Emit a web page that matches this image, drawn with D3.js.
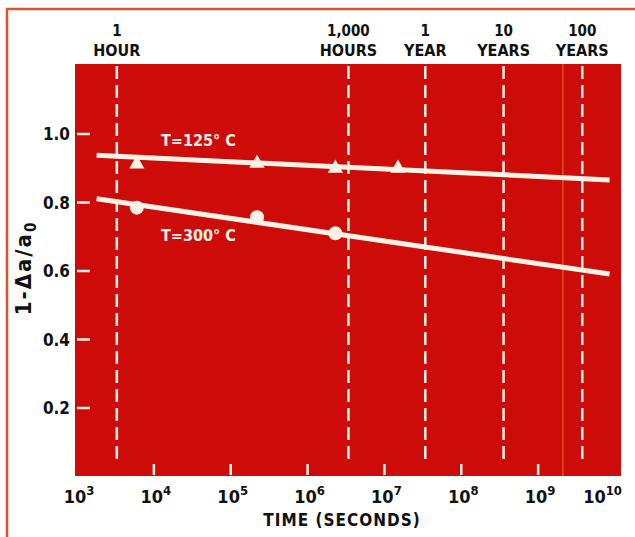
<!DOCTYPE html>
<html>
<head>
<meta charset="utf-8">
<script src="https://cdn.jsdelivr.net/npm/d3@7"></script>
<style>
  body { margin: 0; background: #fff; }
  text { font-family: "DejaVu Sans Condensed", "DejaVu Sans", sans-serif; fill: #111; font-weight: bold; }
</style>
</head>
<body>
<div id="chart-area"></div>
<script>
// values
const xTicks = [1e3, 1e4, 1e5, 1e6, 1e7, 1e8, 1e9, 1e10];
const yTicks = [0.2, 0.4, 0.6, 0.8, 1.0];

const markerLines = ["1|HOUR", "1,000|HOURS", "1|YEAR", "10|YEARS", "100|YEARS"];
const markerSeconds = [3300, 3.4e6, 3.4e7, 3.55e8, 3.75e9];

const fit125 = [[1.8e3, 0.938], [8.5e9, 0.866]];
const fit300 = [[1.8e3, 0.811], [8.5e9, 0.591]];

const pts125Time = [6.0e3, 2.2e5, 2.3e6, 1.5e7];
const pts125Val = [0.912, 0.914, 0.900, 0.900];
const pts300Time = [6.0e3, 2.2e5, 2.3e6];
const pts300Val = [0.785, 0.757, 0.710];

const creaseAt = [2.1e9];

const W = 635, H = 537;
const red = "#cd0c0a";
const cream = "#fbf3e6";

const svg = d3.select('#chart-area')
  .append('svg')
  .attr('width', W)
  .attr('height', H);

// page frame
svg.append('path')
  .attr('d', `M7,${H} L7,9 L${W},9`)
  .attr('fill', 'none')
  .attr('stroke', '#d9532c')
  .attr('stroke-width', 2.5);

const x_s = d3.scaleLog().domain([1e3, 1e10]).range([77, 615]);
const y_s = d3.scaleLinear().domain([0, 1.2]).range([476.5, 65.5]);

// plot background
svg.append('rect')
  .attr('x', 75).attr('y', 64)
  .attr('width', 546).attr('height', 412)
  .attr('fill', red);

svg.selectAll('.crease')
  .data(creaseAt)
  .enter().append('line')
  .attr('x1', d => x_s(d)).attr('x2', d => x_s(d))
  .attr('y1', 64).attr('y2', 476)
  .attr('stroke', '#e8731c').attr('stroke-width', 1.5).attr('opacity', 0.7);

// dashed time markers
svg.selectAll('.marker')
  .data(markerSeconds)
  .enter().append('line')
  .attr('x1', d => x_s(d)).attr('x2', d => x_s(d))
  .attr('y1', 66).attr('y2', 459)
  .attr('stroke', cream)
  .attr('stroke-width', 2.5)
  .attr('stroke-dasharray', '13,6');

// marker labels above plot
const ml = svg.selectAll('.mlabel')
  .data(markerLines.map((t, i) => ({t: t.split('|'), s: markerSeconds[i]})))
  .enter().append('g');
ml.append('text')
  .attr('x', d => x_s(d.s)).attr('y', 36)
  .attr('text-anchor', 'middle')
  .attr('font-size', 15)
  .text(d => d.t[0]);
ml.append('text')
  .attr('x', d => x_s(d.s)).attr('y', 56)
  .attr('text-anchor', 'middle')
  .attr('font-size', 16)
  .text(d => d.t[1]);

// x axis: ticks inside plot bottom
const xAxis = d3.axisBottom(x_s).tickValues(xTicks).tickSize(0).tickFormat('');
svg.append('g')
  .attr('transform', 'translate(0,476)')
  .call(xAxis)
  .call(g => g.select('.domain').remove());

svg.selectAll('.xtick')
  .data(xTicks.slice(1, -1))
  .enter().append('line')
  .attr('x1', d => x_s(d)).attr('x2', d => x_s(d))
  .attr('y1', 464).attr('y2', 475)
  .attr('stroke', cream).attr('stroke-width', 2.5);

const last = xTicks[xTicks.length - 1];
const xl = svg.selectAll('.xlabel')
  .data(xTicks)
  .enter().append('text')
  .attr('x', d => d === last ? 622 : x_s(d) + 2)
  .attr('y', 503)
  .attr('text-anchor', d => d === last ? 'end' : 'middle')
  .attr('font-size', 18);
xl.append('tspan').text('10');
xl.append('tspan').attr('font-size', 13).attr('dy', -8).text(d => Math.round(Math.log10(d)));

svg.append('text')
  .attr('x', 342).attr('y', 526)
  .attr('text-anchor', 'middle')
  .attr('font-size', 17)
  .attr('letter-spacing', 1)
  .text('TIME (SECONDS)');

// y axis
const yAxis = d3.axisLeft(y_s).tickValues(yTicks).tickSize(0).tickFormat('');
svg.append('g')
  .attr('transform', 'translate(75,0)')
  .call(yAxis)
  .call(g => g.select('.domain').remove());

svg.selectAll('.ytick')
  .data(yTicks)
  .enter().append('line')
  .attr('x1', 77).attr('x2', 90)
  .attr('y1', d => y_s(d)).attr('y2', d => y_s(d))
  .attr('stroke', cream).attr('stroke-width', 2.5);

svg.selectAll('.ylabel')
  .data(yTicks)
  .enter().append('text')
  .attr('x', 70)
  .attr('y', d => y_s(d) + 6)
  .attr('text-anchor', 'end')
  .attr('font-size', 17)
  .text(d => d.toFixed(1));

const yt = svg.append('text')
  .attr('transform', 'translate(31,268) rotate(-90)')
  .attr('text-anchor', 'middle')
  .attr('font-size', 22)
  .attr('letter-spacing', 2);
yt.append('tspan').text('1-Δa/a');
yt.append('tspan').attr('font-size', 15).attr('dy', 5).text('0');

// fitted lines
const line = d3.line().x(d => x_s(d[0])).y(d => y_s(d[1]));
[fit125, fit300].forEach(f => {
  svg.append('path')
    .attr('d', line(f))
    .attr('fill', 'none')
    .attr('stroke', cream)
    .attr('stroke-width', 5);
});

// data points
svg.selectAll('.tri')
  .data(pts125Time.map((t, i) => [t, pts125Val[i]]))
  .enter().append('path')
  .attr('d', d3.symbol().type(d3.symbolTriangle).size(100))
  .attr('transform', d => `translate(${x_s(d[0])},${y_s(d[1])})`)
  .attr('fill', cream);

svg.selectAll('.circ')
  .data(pts300Time.map((t, i) => [t, pts300Val[i]]))
  .enter().append('circle')
  .attr('cx', d => x_s(d[0]))
  .attr('cy', d => y_s(d[1]))
  .attr('r', 7)
  .attr('fill', cream);

// series labels
svg.append('text')
  .attr('x', 161).attr('y', 146)
  .attr('font-size', 16)
  .style('fill', cream)
  .text('T=125° C');
svg.append('text')
  .attr('x', 161).attr('y', 241)
  .attr('font-size', 16)
  .style('fill', cream)
  .text('T=300° C');
</script>
</body>
</html>
